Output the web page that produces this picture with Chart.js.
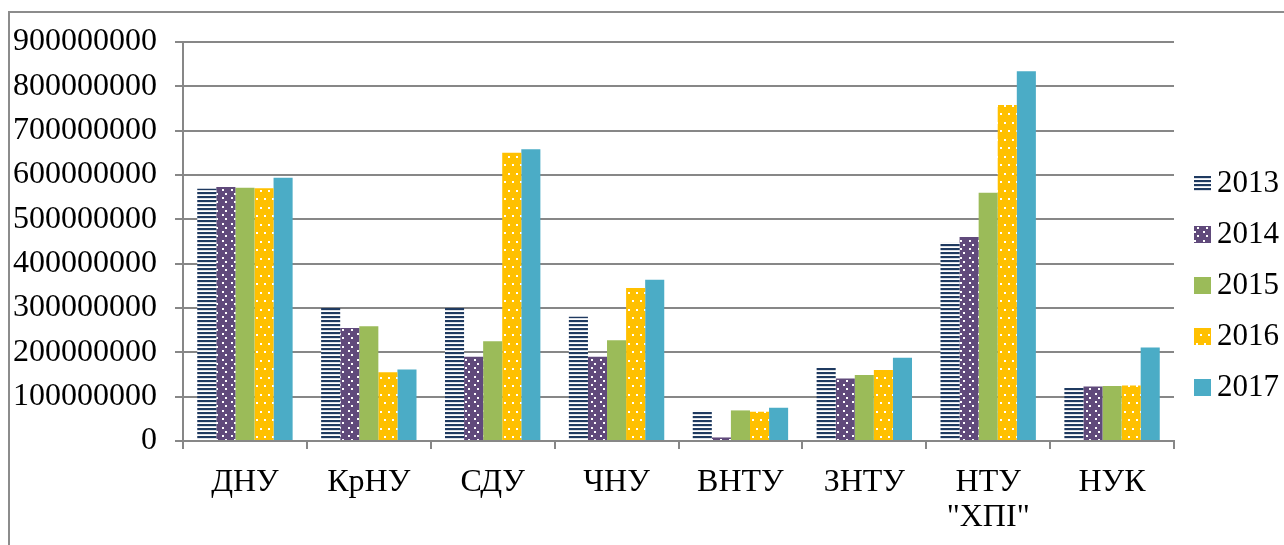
<!DOCTYPE html>
<html>
<head>
<meta charset="utf-8">
<script src="https://cdn.jsdelivr.net/npm/chart.js@4.4.0/dist/chart.umd.min.js"></script>
<style>
    html, body { margin: 0; padding: 0; background: #fff; }
    #wrap { position: relative; width: 1284px; height: 545px; overflow: hidden; }
    #frame { position: absolute; left: 8px; top: 11px; width: 1400px; height: 700px; border: 2px solid #8c8c8c; }
    #chart { position: absolute; left: 0; top: 0; }
</style>
</head>
<body>
<div id="wrap">
    <div id="frame"></div>
    <canvas id="chart" width="1284" height="545"></canvas>
</div>
<script>
const categories = ['ДНУ', 'КрНУ', 'СДУ', 'ЧНУ', 'ВНТУ', 'ЗНТУ', ['НТУ', '"ХПІ"'], 'НУК'];
const years = ['2013', '2014', '2015', '2016', '2017'];

const values2013 = [569000000, 300000000, 300000000, 280000000, 68000000, 167000000, 447000000, 120000000];
const values2014 = [573000000, 255000000, 190000000, 190000000, 8000000, 141000000, 460000000, 123000000];
const values2015 = [571000000, 259000000, 225000000, 227000000, 69000000, 149000000, 560000000, 124000000];
const values2016 = [570000000, 155000000, 650000000, 345000000, 66000000, 160000000, 758000000, 125000000];
const values2017 = [594000000, 161000000, 658000000, 364000000, 75000000, 188000000, 834000000, 211000000];

const yTicks = [0, 100000000, 200000000, 300000000, 400000000, 500000000, 600000000, 700000000, 800000000, 900000000];

// fill patterns like the office chart
function stripes() {
    const c = document.createElement('canvas');
    c.width = 4; c.height = 4;
    const g = c.getContext('2d');
    g.fillStyle = '#ffffff';
    g.fillRect(0, 0, 4, 4);
    g.fillStyle = '#1f3a60';
    g.fillRect(0, 0, 4, 2);
    g.fillStyle = '#c5ccd8';
    g.fillRect(0, 2, 4, 0.6);
    return g.createPattern(c, 'repeat');
}

function dots(bg, w, h, pts) {
    const c = document.createElement('canvas');
    c.width = w; c.height = h;
    const g = c.getContext('2d');
    g.fillStyle = bg;
    g.fillRect(0, 0, w, h);
    g.fillStyle = '#ffffff';
    pts.forEach(p => g.fillRect(p[0], p[1], 2, 2));
    return g.createPattern(c, 'repeat');
}

const fills = [
    stripes(),
    dots('#604a7b', 9, 17, [[6, 2], [6, 10], [0, 6], [0, 14]]),
    '#9bbb59',
    dots('#ffc000', 8, 17, [[4, 3], [0, 11]]),
    '#4bacc6'
];

const series = [values2013, values2014, values2015, values2016, values2017];

const datasets = years.map((y, i) => ({
    label: y,
    data: series[i],
    backgroundColor: fills[i],
    borderWidth: 0,
    categoryPercentage: 0.77,
    barPercentage: 1.0
}));

const family = '"Liberation Serif", "Times New Roman", serif';
const axisFont = { family: family, size: 32, lineHeight: 1.1 };
const legendFont = { family: family, size: 31 };
const gridGrey = '#878787';

// keep the legend narrow so the plot reaches ~1174px
const legendWidth = {
    id: 'legendWidth',
    afterInit(chart) {
        const lg = chart.legend;
        if (!lg) return;
        const fit = lg.fit.bind(lg);
        lg.fit = function () {
            fit();
            this.width = 105;
        };
    }
};

new Chart(document.getElementById('chart'), {
    type: 'bar',
    data: { labels: categories, datasets: datasets },
    plugins: [legendWidth],
    options: {
        responsive: false,
        animation: false,
        layout: { padding: { left: 8, top: 42, right: 5, bottom: 16 } },
        plugins: {
            tooltip: { enabled: false },
            legend: {
                position: 'right',
                align: 'center',
                labels: {
                    font: legendFont,
                    color: '#000',
                    boxWidth: 17,
                    boxHeight: 17,
                    padding: 20,
                    textAlign: 'right'
                }
            }
        },
        scales: {
            x: {
                grid: { drawOnChartArea: false, drawTicks: true, tickLength: 8, color: gridGrey, lineWidth: 2 },
                border: { color: gridGrey, width: 2 },
                ticks: { font: axisFont, color: '#000', padding: 16, maxRotation: 0, autoSkip: false },
                afterFit: s => { s.height = 88; }
            },
            y: {
                min: 0,
                max: 900000000,
                afterBuildTicks: s => { s.ticks = yTicks.map(v => ({ value: v })); },
                grid: { color: gridGrey, lineWidth: 2, tickLength: 8 },
                border: { color: gridGrey, width: 2 },
                ticks: { font: axisFont, color: '#000', padding: 18, callback: v => String(v) },
                afterFit: s => { s.width = 175; }
            }
        }
    }
});
</script>
</body>
</html>
